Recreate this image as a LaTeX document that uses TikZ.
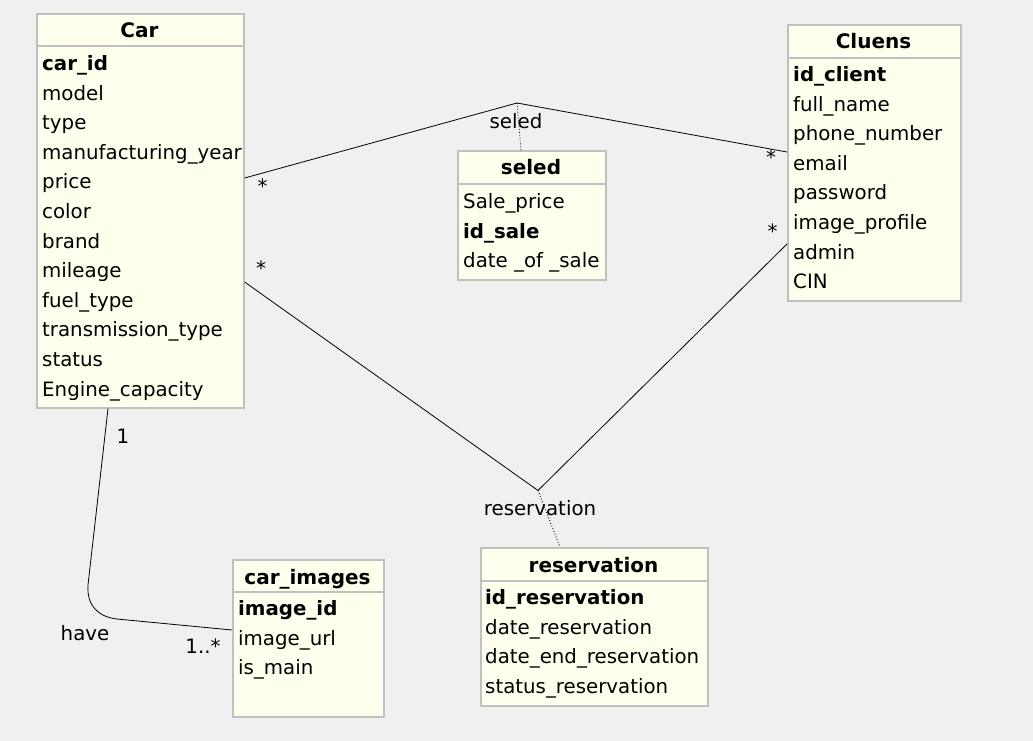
\documentclass[tikz,border=0pt]{standalone}
\usepackage{fontspec}
\setmainfont{DejaVu Sans}
\definecolor{bgc}{HTML}{F0F0F0}
\definecolor{boxfill}{HTML}{FFFFEE}
\definecolor{boxline}{HTML}{C0C0C0}
\tikzset{
  classbox/.style={draw=boxline, fill=boxfill, line width=1.6pt, inner sep=0pt, anchor=north west},
  sepline/.style={draw=boxline, line width=1.6pt},
  attr/.style={anchor=base west, inner sep=0pt, font=\fontsize{19.8}{23}\selectfont},
  title/.style={anchor=base, inner sep=0pt, font=\fontsize{20}{24}\selectfont\bfseries},
  lbl/.style={anchor=base, inner sep=0pt, font=\fontsize{19.8}{23}\selectfont},
  mult/.style={anchor=center, inner sep=0pt, font=\fontsize{19.8}{23}\selectfont},
  assoc/.style={draw=black, line width=0.8pt},
  dots/.style={draw=black, line width=0.9pt, dotted}
}
\begin{document}
\begin{tikzpicture}[x=1pt,y=-1pt]
\fill[bgc] (0,0) rectangle (1033,741);
\useasboundingbox (0,0) rectangle (1033,741);

% boxes
\node[classbox, minimum width=207pt, minimum height=394pt] (car) at (36,13) {};
\node[classbox, minimum width=173pt, minimum height=276pt] (cluens) at (787,24) {};
\node[classbox, minimum width=148pt, minimum height=129pt] (seled) at (457,150) {};
\node[classbox, minimum width=227pt, minimum height=158pt] (resv) at (480,547) {};
\node[classbox, minimum width=151pt, minimum height=157pt] (img) at (232,559) {};

% header separators
\draw[sepline] (car.west |- 0,46) -- (car.east |- 0,46);
\draw[sepline] (cluens.west |- 0,58) -- (cluens.east |- 0,58);
\draw[sepline] (seled.west |- 0,184) -- (seled.east |- 0,184);
\draw[sepline] (resv.west |- 0,581) -- (resv.east |- 0,581);
\draw[sepline] (img.west |- 0,592) -- (img.east |- 0,592);

% titles
\node[title] (cart) at (139.5,37.5) {Car};
\node[title] (cluenst) at (873.5,49) {Cluens};
\node[title] (seledt) at (531,175) {seled};
\node[title] (resvt) at (593.5,572) {reservation};
\node[title] (imgt) at (307.5,584) {car\_images};

% Car attributes
\node[attr, font=\fontsize{19.8}{23}\selectfont\bfseries] (car1) at (42,70.5) {car\_id};
\foreach \t [count=\i from 2] in {model, type, manufacturing\_year, price, color, brand, mileage, fuel\_type, transmission\_type, status, Engine\_capacity}
  \node[attr] (car\i) at (42,{70.5+29.6*(\i-1)}) {\t};

% Cluens attributes
\node[attr, font=\fontsize{19.8}{23}\selectfont\bfseries] (cl1) at (793,81.5) {id\_client};
\foreach \t [count=\i from 2] in {full\_name, phone\_number, email, password, image\_profile, admin, CIN}
  \node[attr] (cl\i) at (793,{81.5+29.6*(\i-1)}) {\t};

% seled attributes
\node[attr] (se1) at (463,208.5) {Sale\_price};
\node[attr, font=\fontsize{19.8}{23}\selectfont\bfseries] (se2) at (463,238.1) {id\_sale};
\node[attr] (se3) at (463,267.7) {date \_of \_sale};

% reservation attributes
\node[attr, font=\fontsize{19.8}{23}\selectfont\bfseries] (re1) at (485,604.5) {id\_reservation};
\foreach \t [count=\i from 2] in {date\_reservation, date\_end\_reservation, status\_reservation}
  \node[attr] (re\i) at (485,{604.5+29.6*(\i-1)}) {\t};

% car_images attributes
\node[attr, font=\fontsize{19.8}{23}\selectfont\bfseries] (im1) at (238,615.5) {image\_id};
\foreach \t [count=\i from 2] in {image\_url, is\_main}
  \node[attr] (im\i) at (238,{615.5+29.6*(\i-1)}) {\t};

% association: seled
\coordinate (sp) at (517,103);
\draw[assoc] (car.east |- 0,178) -- (sp) -- (cluens.west |- 0,152);
\draw[dots] (sp) -- (seled.north -| 521,0);
\node[lbl] (seledl) at (516,128.5) {seled};
\node[mult] (m1) at (262.5,186) {*};
\node[mult] (m2) at (771,157.5) {*};

% association: reservation
\coordinate (rp) at (538,490.5);
\draw[assoc] (car.east |- 0,282) -- (rp) -- (cluens.west |- 0,244);
\draw[dots] (rp) -- (resv.north -| 560,0);
\node[lbl] (resvl) at (540,515) {reservation};
\node[mult] (m3) at (261,268) {*};
\node[mult] (m4) at (772.5,231.5) {*};

% association: have
\draw[assoc] (car.south -| 108,0) -- (88,585) .. controls (86.5,606) and (99,617) .. (117,619) -- (img.west |- 0,630);
\node[lbl] (havel) at (85,640) {have};
\node[lbl] (m5) at (123,443) {1};
\node[lbl] (m6) at (203,653.5) {1..*};
\end{tikzpicture}
\end{document}
